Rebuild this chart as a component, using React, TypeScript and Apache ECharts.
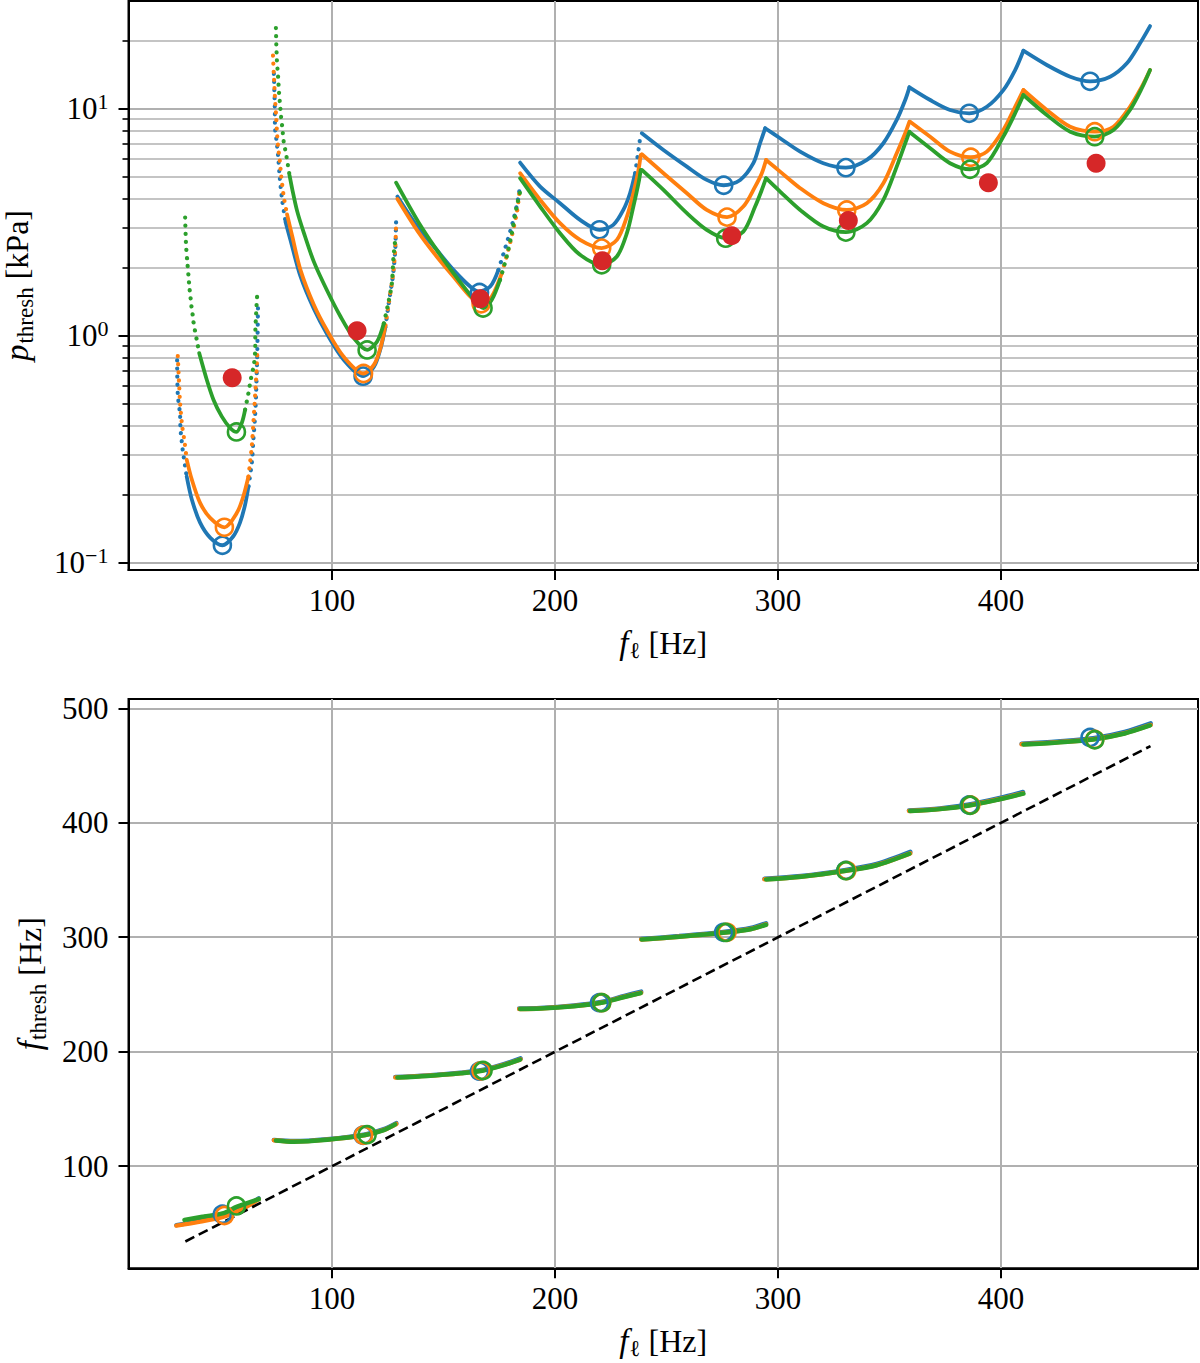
import React, { useEffect, useRef } from "react";
import * as echarts from "echarts";

const BLUE = "#1f77b4";
const ORANGE = "#ff7f0e";
const GREEN = "#2ca02c";
const RED = "#d62728";
const GRID_GRAY = "#b0b0b0";
const FONT = "'Liberation Serif', 'DejaVu Serif', serif";

// ---- axes ----
const X_MIN = 8.7;
const X_MAX = 488.3;
const P_MIN = 0.093;
const P_MAX = 29.8;
const FT_MIN = 10.8;
const FT_MAX = 508.1;
const xTicks = [100, 200, 300, 400];
const pMajorTicks = [0.1, 1, 10];
const pExponents = ["\u22121", "0", "1"];
const pMinorTicks = [0.2, 0.3, 0.4, 0.5, 0.6, 0.7, 0.8, 0.9, 2, 3, 4, 5, 6, 7, 8, 9, 20];
const fThreshTicks = [100, 200, 300, 400, 500];

// ---- top panel: p_thresh [kPa] per branch (f_l, p) ----
const pBlue = [
  [[30.5, 0.779], [30.8, 0.55], [31.8, 0.452], [32.0, 0.39], [32.5, 0.349], [33.0, 0.315], [34.8, 0.24], [37.1, 0.19], [40.8, 0.1504], [45.3, 0.1292], [50.8, 0.1195], [55.7, 0.131], [58.7, 0.1504], [61.0, 0.1805], [62.5, 0.2173], [64.0, 0.2762], [64.7, 0.349], [65.5, 0.449], [65.9, 0.55], [66.4, 0.8], [66.8, 1.397]],
  [[73.9, 14.24], [74.3, 10.22], [74.4, 8.28], [75.2, 7.07], [75.8, 6.17], [76.5, 5.007], [77.6, 3.966], [79.1, 3.18], [81.3, 2.645], [85.8, 1.829], [91.8, 1.315], [97.8, 1.015], [105.2, 0.784], [113.9, 0.664], [118.7, 0.728], [121.7, 0.877], [123.9, 1.092], [125.2, 1.346], [126.8, 1.705], [127.5, 1.919], [128.3, 2.39], [128.7, 3.184]],
  [[129.3, 4.101], [138.5, 3.0], [146.9, 2.39], [154.4, 1.951], [161.9, 1.648], [165.6, 1.566], [170.9, 1.648], [174.6, 1.951], [178.3, 2.557], [181.3, 3.238], [183.5, 4.035], [184.0, 4.388]],
  [[184.3, 5.787], [193.3, 4.538], [202.2, 3.836], [211.2, 3.238], [219.9, 2.927], [226.1, 3.078], [230.6, 3.584], [233.6, 4.244], [235.9, 5.197], [237.4, 6.58], [238.4, 7.795]],
  [[238.9, 7.795], [248.6, 6.58], [259.1, 5.557], [268.0, 4.857], [275.6, 4.6], [283.0, 4.857], [288.9, 5.753], [291.9, 7.043], [294.2, 8.199]],
  [[294.2, 8.199], [300.9, 7.41], [309.9, 6.47], [320.3, 5.753], [330.4, 5.5], [339.8, 5.947], [347.2, 7.043], [353.2, 8.92], [357.0, 10.92], [358.9, 12.42]],
  [[358.9, 12.42], [368.2, 10.92], [377.1, 9.87], [385.7, 9.54], [393.6, 10.2], [401.0, 12.08], [406.3, 14.8], [410.0, 18.0]],
  [[410.0, 18.0], [420.5, 15.57], [431.0, 13.83], [439.9, 13.2], [448.9, 13.83], [456.4, 15.84], [462.3, 19.4], [466.8, 23.1]],
];
const pOrange = [
  [[30.8, 0.813], [31.4, 0.613], [31.8, 0.511], [32.7, 0.406], [33.8, 0.343], [34.8, 0.285], [37.1, 0.2325], [40.8, 0.1837], [45.3, 0.1578], [51.7, 0.1434], [57.3, 0.166], [60.2, 0.1963], [62.5, 0.24], [64.0, 0.326], [64.7, 0.413], [65.9, 0.64], [66.5, 0.85]],
  [[73.5, 17.13], [74.3, 11.55], [74.9, 9.25], [75.3, 7.84], [75.8, 6.77], [76.5, 5.95], [77.1, 5.135], [78.3, 4.114], [79.8, 3.423], [82.1, 2.754], [85.8, 1.951], [91.8, 1.369], [97.8, 1.052], [105.2, 0.808], [114.1, 0.682], [118.8, 0.746], [121.7, 0.886], [123.9, 1.112], [125.2, 1.346], [126.8, 1.705], [127.5, 1.919], [128.3, 2.39], [128.7, 3.122]],
  [[129.3, 4.006], [139.0, 2.83], [146.9, 2.233], [154.4, 1.823], [161.9, 1.489], [167.1, 1.369], [171.6, 1.489], [176.1, 1.887], [179.8, 2.557], [182.8, 3.466], [183.9, 4.214]],
  [[184.3, 5.197], [193.3, 3.966], [202.2, 3.132], [211.2, 2.645], [220.9, 2.432], [227.7, 2.645], [232.2, 3.349], [235.1, 4.244], [237.4, 5.374], [238.4, 6.256]],
  [[238.9, 6.301], [248.6, 5.197], [259.1, 4.244], [268.0, 3.584], [277.1, 3.33], [284.4, 3.707], [289.7, 4.538], [292.7, 5.197], [294.6, 5.947]],
  [[294.6, 5.947], [300.9, 5.283], [309.9, 4.466], [320.3, 3.836], [330.8, 3.58], [339.8, 3.836], [347.2, 4.697], [353.2, 6.365], [357.0, 7.795], [358.9, 8.767]],
  [[359.2, 8.767], [368.2, 7.53], [377.1, 6.47], [386.4, 6.11], [393.6, 6.47], [401.0, 8.06], [406.3, 10.2], [410.0, 12.08]],
  [[410.0, 12.08], [420.5, 9.87], [431.0, 8.33], [442.0, 7.92], [450.4, 8.33], [457.8, 10.2], [463.1, 12.5], [466.8, 14.8]],
];
const pGreen = [
  [[34.1, 3.316], [34.5, 2.514], [35.1, 2.101], [35.6, 1.837], [36.0, 1.638], [36.5, 1.48], [36.9, 1.355], [37.4, 1.25], [37.8, 1.156], [38.3, 1.081], [38.8, 1.017], [39.3, 0.96], [39.8, 0.904], [40.4, 0.839], [43.8, 0.64], [46.8, 0.523], [50.5, 0.4415], [54.3, 0.3926], [57.1, 0.377], [59.5, 0.413], [61.0, 0.4726], [62.5, 0.56], [63.5, 0.64], [64.9, 0.742], [65.5, 0.859], [65.6, 1.063], [66.4, 1.51]],
  [[74.8, 22.65], [75.2, 16.68], [75.8, 13.72], [76.2, 11.76], [76.7, 10.33], [77.1, 9.25], [77.6, 8.375], [78.3, 7.152], [79.1, 6.515], [79.8, 5.95], [80.9, 5.093], [82.1, 4.434], [84.3, 3.548], [87.3, 2.847], [91.8, 2.121], [97.8, 1.578], [103.7, 1.219], [109.7, 0.978], [115.7, 0.866], [120.2, 0.943], [123.2, 1.134], [125.2, 1.393], [126.8, 1.705], [127.5, 2.197], [128.3, 2.645]],
  [[128.7, 4.725], [139.0, 3.132], [146.9, 2.39], [154.4, 1.887], [161.9, 1.515], [167.8, 1.324], [171.6, 1.44], [175.3, 1.763], [178.3, 2.233], [180.6, 2.83], [182.8, 3.707], [184.3, 4.3]],
  [[184.3, 4.941], [193.3, 3.707], [202.2, 2.83], [211.2, 2.272], [220.9, 2.053], [227.7, 2.233], [232.2, 2.83], [235.1, 3.707], [237.4, 4.697], [238.4, 5.374]],
  [[238.9, 5.374], [248.6, 4.388], [259.1, 3.466], [268.0, 2.927], [276.5, 2.69], [284.4, 2.876], [289.7, 3.707], [292.7, 4.388], [294.6, 4.941]],
  [[294.6, 4.941], [300.9, 4.314], [309.9, 3.58], [320.3, 3.026], [330.4, 2.86], [339.8, 3.132], [347.2, 3.966], [353.2, 5.557], [357.0, 7.043], [358.9, 7.923]],
  [[359.2, 7.85], [368.2, 6.695], [377.1, 5.753], [386.1, 5.41], [393.6, 5.753], [401.0, 7.53], [406.3, 9.546], [410.0, 11.49]],
  [[410.0, 11.49], [420.5, 9.38], [431.0, 7.92], [442.0, 7.53], [450.4, 8.06], [457.8, 9.87], [463.1, 12.3], [466.8, 14.8]],
];

// minima markers and measured points (top panel)
const pCircBlue = [[50.8, 0.1195], [113.9, 0.664], [166.1, 1.551], [219.9, 2.927], [275.6, 4.6], [330.4, 5.5], [385.7, 9.54], [439.9, 13.2]];
const pCircOrange = [[51.7, 0.1434], [114.1, 0.682], [166.8, 1.383], [220.9, 2.432], [277.1, 3.33], [330.8, 3.58], [386.4, 6.11], [442.0, 7.92]];
const pCircGreen = [[57.1, 0.377], [115.7, 0.866], [167.7, 1.324], [220.9, 2.053], [276.5, 2.69], [330.4, 2.86], [386.1, 5.41], [442.0, 7.53]];
const pMeasured = [[55.2, 0.653], [111.2, 1.052], [166.4, 1.455], [221.2, 2.138], [279.2, 2.76], [331.5, 3.217], [394.3, 4.72], [442.6, 5.75]];

// ---- bottom panel: f_thresh [Hz] per branch ----
const fBlue = [
  [[30.2, 48.5], [40.9, 52.2], [51.4, 57.0], [60.4, 64.0], [67.1, 71.8]],
  [[73.9, 122.9], [82.8, 121.9], [97.8, 123.6], [114.9, 127.8], [123.2, 132.3], [128.8, 137.6]],
  [[128.4, 177.8], [142.6, 179.3], [157.5, 181.7], [167.3, 184.0], [177.0, 189.1], [184.5, 194.2]],
  [[183.9, 237.8], [193.4, 238.2], [208.5, 240.4], [220.7, 243.4], [231.1, 248.8], [238.6, 252.5]],
  [[238.6, 298.5], [255.6, 301.0], [276.3, 304.8], [287.7, 308.0], [294.6, 312.2]],
  [[293.9, 351.0], [310.3, 353.4], [330.4, 358.8], [344.2, 364.0], [359.3, 374.5]],
  [[358.7, 410.7], [372.5, 412.5], [385.7, 415.9], [398.9, 421.4], [409.8, 426.9]],
  [[409.2, 469.0], [425.3, 471.0], [441.3, 473.8], [455.4, 479.4], [467.1, 486.8]],
];
const fOrange = [
  [[30.2, 48.1], [40.9, 51.6], [51.4, 56.0], [60.4, 63.3], [67.1, 71.2]],
  [[73.9, 122.6], [82.8, 121.5], [97.8, 123.2], [114.9, 127.3], [123.2, 131.7], [128.8, 136.9]],
  [[128.4, 177.4], [142.6, 178.9], [157.5, 181.2], [167.3, 183.5], [177.0, 188.5], [184.5, 193.4]],
  [[183.9, 237.4], [193.4, 237.8], [208.5, 239.9], [220.7, 242.8], [231.1, 248.0], [238.6, 251.5]],
  [[238.6, 298.1], [255.6, 300.5], [276.3, 304.2], [287.7, 307.2], [294.6, 311.2]],
  [[293.9, 350.6], [310.3, 352.9], [330.4, 358.1], [344.2, 363.1], [359.3, 373.3]],
  [[358.7, 410.3], [372.5, 412.0], [385.7, 415.2], [398.9, 420.5], [409.8, 425.7]],
  [[409.2, 468.5], [425.3, 470.3], [441.3, 472.9], [455.4, 478.2], [467.1, 485.4]],
];
const fGreen = [
  [[33.8, 53.1], [42.5, 56.0], [51.4, 59.0], [57.4, 64.6], [67.1, 71.2]],
  [[74.8, 122.5], [82.8, 121.4], [97.8, 123.1], [114.9, 127.2], [123.2, 131.5], [128.3, 136.5]],
  [[129.3, 177.4], [142.6, 178.8], [157.5, 181.1], [167.3, 183.4], [177.0, 188.3], [184.3, 193.1]],
  [[184.3, 237.4], [193.4, 237.7], [208.5, 239.8], [220.7, 242.7], [231.1, 247.8], [238.4, 251.2]],
  [[238.9, 298.0], [255.6, 300.4], [276.3, 304.1], [287.7, 307.0], [294.6, 310.9]],
  [[294.6, 350.5], [310.3, 352.8], [330.4, 358.0], [344.2, 362.9], [358.9, 372.9]],
  [[359.2, 410.2], [372.5, 411.9], [385.7, 415.1], [398.9, 420.3], [410.0, 425.4]],
  [[410.0, 468.4], [425.3, 470.2], [441.3, 472.8], [455.4, 478.0], [466.8, 485.0]],
];
const fCircBlue = [[50.8, 58.0], [113.9, 127.0], [166.1, 183.0], [219.9, 242.8], [275.6, 304.3], [330.4, 358.4], [385.7, 415.6], [439.9, 474.5]];
const fCircOrange = [[51.7, 56.9], [114.1, 127.1], [166.8, 183.3], [220.9, 242.8], [277.1, 304.3], [330.8, 358.2], [386.4, 415.4], [442.0, 472.8]];
const fCircGreen = [[57.1, 65.3], [115.7, 127.5], [167.7, 183.6], [220.9, 242.8], [276.5, 304.2], [330.4, 358.1], [386.1, 415.3], [442.0, 472.5]];
const identityLine = [[34.2, 34.2], [467.0, 467.0]];

// index ranges of the top-panel branches where the sampled points are sparse (drawn dotted)
const sparseBlue = [[[0, 6], [14, 20]], [[0, 7], [16, 21]], [[7, 11]], [[8, 10]], [], [], [], []];
const sparseOrange = [[[0, 5], [12, 16]], [[0, 8], [17, 22]], [[7, 10]], [], [], [], [], []];
const sparseGreen = [[[0, 13], [20, 26]], [[0, 10], [20, 24]], [[7, 11]], [], [], [], [], []];

function solidRanges(n: number, sparse: number[][]) {
  const res: number[][] = [];
  let cur = 0;
  for (const [a, b] of sparse) {
    if (a > cur) res.push([cur, a]);
    cur = b;
  }
  if (cur < n - 1) res.push([cur, n - 1]);
  return res;
}

function topLines(branches: number[][][], sparse: number[][][], color: string) {
  const out: any[] = [];
  branches.forEach((pts, bi) => {
    const sp = sparse[bi] || [];
    solidRanges(pts.length, sp).forEach(([a, b]) => {
      out.push({
        type: "line", xAxisIndex: 0, yAxisIndex: 0, data: pts.slice(a, b + 1),
        symbol: "none", showSymbol: false, smooth: 0.3, silent: true, z: 2,
        lineStyle: { color, width: 3.8, cap: "round", join: "round" },
      });
    });
    sp.forEach(([a, b]) => {
      out.push({
        type: "line", xAxisIndex: 0, yAxisIndex: 0, data: pts.slice(a, b + 1),
        symbol: "none", showSymbol: false, smooth: 0.3, silent: true, z: 2,
        lineStyle: { color, width: 4.2, cap: "round", type: [0.1, 8] },
      });
    });
  });
  return out;
}

function bottomLines(branches: number[][][], color: string) {
  return branches.map((pts) => ({
    type: "line", xAxisIndex: 1, yAxisIndex: 2, data: pts,
    symbol: "none", showSymbol: false, smooth: 0.3, silent: true, z: 2,
    lineStyle: { color, width: 4.5, cap: "round" },
  }));
}

function circles(data: number[][], color: string, xi: number, yi: number) {
  return {
    type: "scatter", xAxisIndex: xi, yAxisIndex: yi, data, symbol: "circle", symbolSize: 17,
    silent: true, z: 5,
    itemStyle: { color: "rgba(0,0,0,0)", borderColor: color, borderWidth: 2.6, opacity: 1 },
  };
}

const tickFont = { fontFamily: FONT, fontSize: 31, color: "#000" };
const nameRich = {
  i: { fontFamily: FONT, fontSize: 33, fontStyle: "italic", color: "#000" },
  s: { fontFamily: FONT, fontSize: 23, color: "#000", padding: [16, 0, 0, 1] },
  n: { fontFamily: FONT, fontSize: 32, color: "#000" },
};

function xAxisFor(gridIndex: number) {
  return {
    type: "value", gridIndex, min: X_MIN, max: X_MAX,
    axisLine: { show: true, onZero: false, lineStyle: { color: "#000", width: 2 } },
    axisTick: { show: true, length: 10, customValues: xTicks, lineStyle: { color: "#000", width: 2 } },
    axisLabel: { customValues: xTicks, margin: 15, ...tickFont, formatter: (v: number) => String(Math.round(v)) },
    splitLine: { show: true, lineStyle: { color: GRID_GRAY, width: 2 } },
    name: "{i|f}{s|\u2113}{n| [Hz]}",
    nameLocation: "middle", nameGap: 53,
    nameTextStyle: { ...tickFont, rich: nameRich },
  };
}

function expLabel(v: number) {
  const idx = pMajorTicks.findIndex((t) => Math.abs(Math.log10(t) - Math.log10(v)) < 0.01);
  return idx >= 0 ? `{b|10}{e|${pExponents[idx]}}` : "";
}

export default function App() {
  const ref = useRef<HTMLDivElement>(null);
  useEffect(() => {
    if (!ref.current) return;
    const chart = echarts.init(ref.current, null, { renderer: "svg" });
    const series: any[] = [
      ...topLines(pBlue, sparseBlue, BLUE),
      ...topLines(pOrange, sparseOrange, ORANGE),
      ...topLines(pGreen, sparseGreen, GREEN),
      circles(pCircBlue, BLUE, 0, 0),
      circles(pCircOrange, ORANGE, 0, 0),
      circles(pCircGreen, GREEN, 0, 0),
      {
        type: "scatter", xAxisIndex: 0, yAxisIndex: 0, data: pMeasured, symbol: "circle",
        symbolSize: 19, silent: true, z: 6, itemStyle: { color: RED, opacity: 1 },
      },
      ...bottomLines(fBlue, BLUE),
      ...bottomLines(fOrange, ORANGE),
      ...bottomLines(fGreen, GREEN),
      {
        type: "line", xAxisIndex: 1, yAxisIndex: 2, data: identityLine, symbol: "none",
        silent: true, z: 4, lineStyle: { color: "#000", width: 2.6, type: [10, 5] },
      },
      circles(fCircBlue, BLUE, 1, 2),
      circles(fCircOrange, ORANGE, 1, 2),
      circles(fCircGreen, GREEN, 1, 2),
    ];
    const option: any = {
      animation: false,
      backgroundColor: "#fff",
      grid: [
        { left: 128.5, top: 1, width: 1069.5, height: 569, show: true, borderColor: "#000", borderWidth: 2, backgroundColor: "transparent", containLabel: false, outerBoundsMode: "none" },
        { left: 128.5, top: 699, width: 1069.5, height: 569.3, show: true, borderColor: "#000", borderWidth: 2, backgroundColor: "transparent", containLabel: false, outerBoundsMode: "none" },
      ],
      xAxis: [xAxisFor(0), xAxisFor(1)],
      yAxis: [
        {
          type: "log", logBase: 10, gridIndex: 0, min: P_MIN, max: P_MAX, position: "left",
          axisLine: { show: true, onZero: false, lineStyle: { color: "#000", width: 2 } },
          axisTick: { show: true, length: 10, customValues: pMajorTicks, lineStyle: { color: "#000", width: 2 } },
          axisLabel: {
            customValues: pMajorTicks, margin: 20, formatter: expLabel,
            rich: {
              b: { fontFamily: FONT, fontSize: 31, color: "#000" },
              e: { fontFamily: FONT, fontSize: 22, color: "#000", padding: [0, 0, 15, 0] },
            },
          },
          splitLine: { show: true, lineStyle: { color: GRID_GRAY, width: 2 } },
          name: "{i|p}{s|thresh}{n| [kPa]}",
          nameLocation: "middle", nameGap: 92,
          nameTextStyle: { ...tickFont, rich: nameRich },
        },
        {
          type: "log", logBase: 10, gridIndex: 0, min: P_MIN, max: P_MAX, position: "left",
          axisLine: { show: false },
          axisTick: { show: true, length: 6, customValues: pMinorTicks, lineStyle: { color: "#000", width: 1.6 } },
          axisLabel: { show: false },
          splitLine: { show: true, lineStyle: { color: GRID_GRAY, width: 1.6 } },
        },
        {
          type: "value", gridIndex: 1, min: FT_MIN, max: FT_MAX, position: "left",
          axisLine: { show: true, onZero: false, lineStyle: { color: "#000", width: 2 } },
          axisTick: { show: true, length: 10, customValues: fThreshTicks, lineStyle: { color: "#000", width: 2 } },
          axisLabel: { customValues: fThreshTicks, margin: 20, ...tickFont, formatter: (v: number) => String(Math.round(v)) },
          splitLine: { show: true, lineStyle: { color: GRID_GRAY, width: 2 } },
          name: "{i|f}{s|thresh}{n| [Hz]}",
          nameLocation: "middle", nameGap: 79,
          nameTextStyle: { ...tickFont, rich: nameRich },
        },
      ],
      series,
    };
    chart.setOption(option);
    return () => chart.dispose();
  }, []);
  return (
    <div
      ref={ref}
      style={{ position: "absolute", left: 0, top: 0, width: 1200, height: 1363, background: "#fff" }}
    />
  );
}
